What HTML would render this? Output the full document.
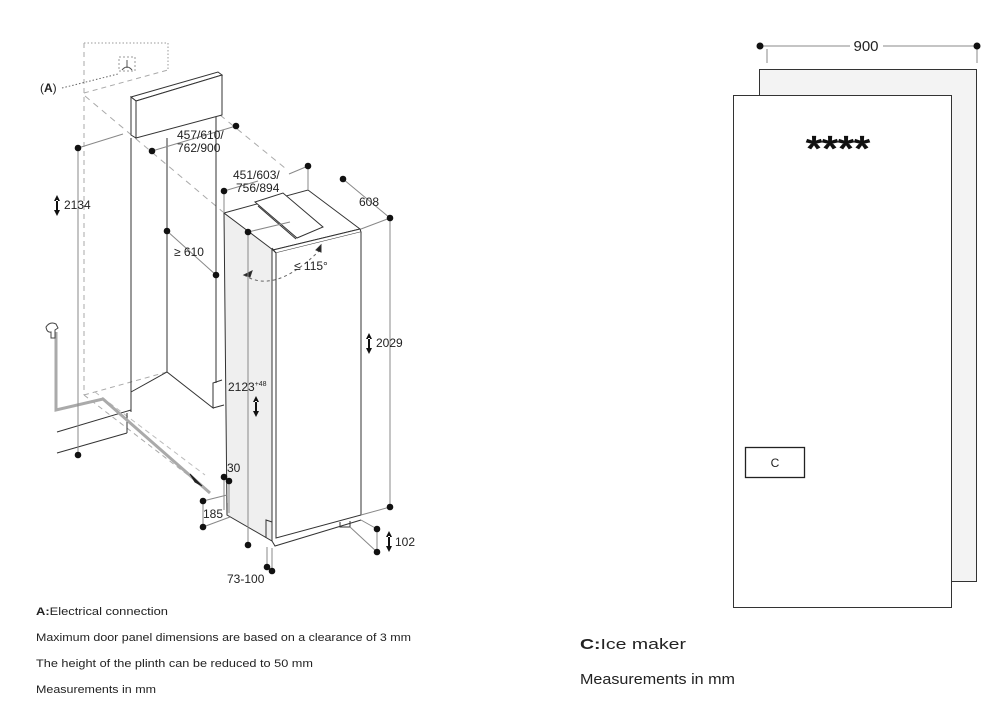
<!DOCTYPE html>
<html><head><meta charset="utf-8"><style>
html,body{margin:0;padding:0;background:#fff}
svg{display:block}
text{font-family:"Liberation Sans",sans-serif;fill:#222}
</style></head><body>
<svg width="998" height="706" viewBox="0 0 998 706" xmlns="http://www.w3.org/2000/svg">
<g fill="none" stroke="#333" stroke-width="1">
<path d="M84 43 H168 V70" stroke="#999" stroke-dasharray="1.5 2"/>
<path d="M84 43 V395" stroke="#aaa" stroke-dasharray="5 4"/>
<path d="M84 93 L168 70" stroke="#aaa" stroke-dasharray="5 4"/>
<path d="M62 88 L118 74" stroke="#666" stroke-dasharray="1.5 2"/>
<rect x="119" y="57" width="16" height="14" stroke="#999" stroke-dasharray="2 2"/>
<path d="M127 60 V68 M122 70 Q127 64 132 70" stroke="#555"/>
<path d="M85 96 L223 212" stroke="#aaa" stroke-dasharray="6 5"/>
<path d="M220 115 L285 168" stroke="#aaa" stroke-dasharray="6 5"/>
<path d="M84 395 L167 372" stroke="#aaa" stroke-dasharray="5 4"/>
<path d="M84 395 L210 492" stroke="#aaa" stroke-dasharray="5 4"/>
<path d="M95 392 L205 475" stroke="#bbb" stroke-dasharray="5 4"/>
<path d="M131 97 L218 72 L222 75 L136 101 Z" fill="#fff"/>
<path d="M136 101 L222 75 V115 L136 138 Z" fill="#fff"/>
<path d="M131 97 L136 101 V138 L131 135 Z" fill="#fff"/>
<path d="M131 138 V412"/>
<path d="M167 138 V372"/>
<path d="M216 117 V383"/>
<path d="M57 432 L131 410 M57 453 L127 433 M127 413 V433"/>
<path d="M131 392 L167 372 L213 408 V383 L222 380"/>
<path d="M213 408 L224 405"/>
<path d="M56 332 V410 L103 399 L210 493" stroke="#aaa" stroke-width="3"/>
<path d="M190 474 L202 486 L195 482 Z" fill="#222" stroke="#222"/>
<path d="M46 327 q4 -6 10 -3 l2 4 l-3 2 v8 h-4 v-6 q-4 1 -5 -5 z" stroke="#444"/>
<path d="M224 213 L272 248 V541 L227 515 Z" fill="#efefef"/>
<path d="M224 213 L308 190 L360 229 L273 250 Z" fill="#fff"/>
<path d="M273 250 L360 229 L361 232 L276 253 Z" fill="#fff"/>
<path d="M276 253 V538 L361 515 V232" fill="#fff"/>
<path d="M272 248 L276 253"/>
<path d="M255 202 L283 193 L323 227 L297 238 Z" fill="#fff"/>
<path d="M258 206 L296 239" />
<path d="M227 515 V503 M272 541 L275 546 L361 520 M340 522 v5 h10 v-6"/>
<path d="M266 538 V520 L272 522"/>
<path d="M244 275 Q275 295 320 250" stroke="#666" stroke-dasharray="3 3"/>
<path d="M316 250 l5 -5 l0 7 z" fill="#222"/>
<path d="M244 275 l8 -4 l-2 6 z" fill="#222"/>
<g stroke="#888">
<path d="M78 148 V455 M78 148 L123 134 M152 151 L236 126"/>
<path d="M167 231 L216 275"/>
<path d="M224 191 V213 M224 191 L258 181 M289 174 L308 166 V190"/>
<path d="M343 179 L390 218 M390 218 V507 M361 229 L390 218 M361 515 L390 507"/>
<path d="M248 232 V545 M248 232 L290 222"/>
<path d="M224 477 V510 M229 481 V513"/>
<path d="M203 501 L227 495 M203 527 L230 517 M203 501 V527"/>
<path d="M267 547 V567 M272 548 V571"/>
<path d="M361 520 L377 529 M350 527 L377 552 M377 529 V552"/>
<path d="M767 49 V63 M977 49 V63 M760 46 H850 M883 46 H977"/>
</g>
</g>
<g fill="#111">
<circle cx="78" cy="148" r="3.3"/><circle cx="152" cy="151" r="3.3"/><circle cx="236" cy="126" r="3.3"/>
<circle cx="78" cy="455" r="3.3"/><circle cx="167" cy="231" r="3.3"/><circle cx="216" cy="275" r="3.3"/>
<circle cx="224" cy="191" r="3.3"/><circle cx="308" cy="166" r="3.3"/><circle cx="343" cy="179" r="3.3"/>
<circle cx="390" cy="218" r="3.3"/><circle cx="390" cy="507" r="3.3"/><circle cx="248" cy="232" r="3.3"/>
<circle cx="248" cy="545" r="3.3"/><circle cx="224" cy="477" r="3.3"/><circle cx="229" cy="481" r="3.3"/>
<circle cx="203" cy="501" r="3.3"/><circle cx="203" cy="527" r="3.3"/><circle cx="267" cy="567" r="3.3"/>
<circle cx="272" cy="571" r="3.3"/><circle cx="377" cy="529" r="3.3"/><circle cx="377" cy="552" r="3.3"/>
<circle cx="760" cy="46" r="3.5"/><circle cx="977" cy="46" r="3.5"/>
<path d="M57 195 l-3 6 h6 z M57 216 l-3 -6 h6 z M56 200 h2 v11 h-2z"/>
<path d="M369 333 l-3 6 h6 z M369 354 l-3 -6 h6 z M368 338 h2 v11 h-2z"/>
<path d="M256 396 l-3 6 h6 z M256 417 l-3 -6 h6 z M255 401 h2 v11 h-2z"/>
<path d="M389 531 l-3 6 h6 z M389 552 l-3 -6 h6 z M388 536 h2 v11 h-2z"/>
</g>
<g font-size="12">
<text x="40" y="92">(<tspan font-weight="bold">A</tspan>)</text>
<text x="177" y="139">457/610/</text>
<text x="177" y="152">762/900</text>
<text x="64" y="209">2134</text>
<text x="174" y="256">≥ 610</text>
<text x="233" y="179">451/603/</text>
<text x="236" y="192">756/894</text>
<text x="359" y="206">608</text>
<text x="294" y="270">≤ 115°</text>
<text x="376" y="347">2029</text>
<text x="228" y="391">2123<tspan font-size="7" dy="-5">+48</tspan></text>
<text x="227" y="472">30</text>
<text x="203" y="518">185</text>
<text x="227" y="583">73-100</text>
<text x="395" y="546">102</text>
</g>
<g font-size="11">
<text x="36" y="615" textLength="132" lengthAdjust="spacingAndGlyphs"><tspan font-weight="bold">A:</tspan>Electrical connection</text>
<text x="36" y="641" textLength="375" lengthAdjust="spacingAndGlyphs">Maximum door panel dimensions are based on a clearance of 3 mm</text>
<text x="36" y="667" textLength="277" lengthAdjust="spacingAndGlyphs">The height of the plinth can be reduced to 50 mm</text>
<text x="36" y="693" textLength="120" lengthAdjust="spacingAndGlyphs">Measurements in mm</text>
</g>
<rect x="759.5" y="69.5" width="217" height="512" fill="#f3f3f3" stroke="#333"/>
<rect x="733.5" y="95.5" width="218" height="512" fill="#fff" stroke="#333"/>
<text x="806" y="160" font-size="34" textLength="64" lengthAdjust="spacingAndGlyphs" style="fill:#111;stroke:#111;stroke-width:1.2">****</text>
<rect x="745.5" y="447.5" width="59" height="30" fill="#fff" stroke="#222" stroke-width="1.3"/>
<text x="775" y="467" font-size="12" text-anchor="middle">C</text>
<text x="866" y="51" font-size="15" text-anchor="middle">900</text>
<text x="580" y="649" font-size="15" textLength="106" lengthAdjust="spacingAndGlyphs"><tspan font-weight="bold">C:</tspan>Ice maker</text>
<text x="580" y="684" font-size="15" textLength="155" lengthAdjust="spacingAndGlyphs">Measurements in mm</text>
</svg>
</body></html>
